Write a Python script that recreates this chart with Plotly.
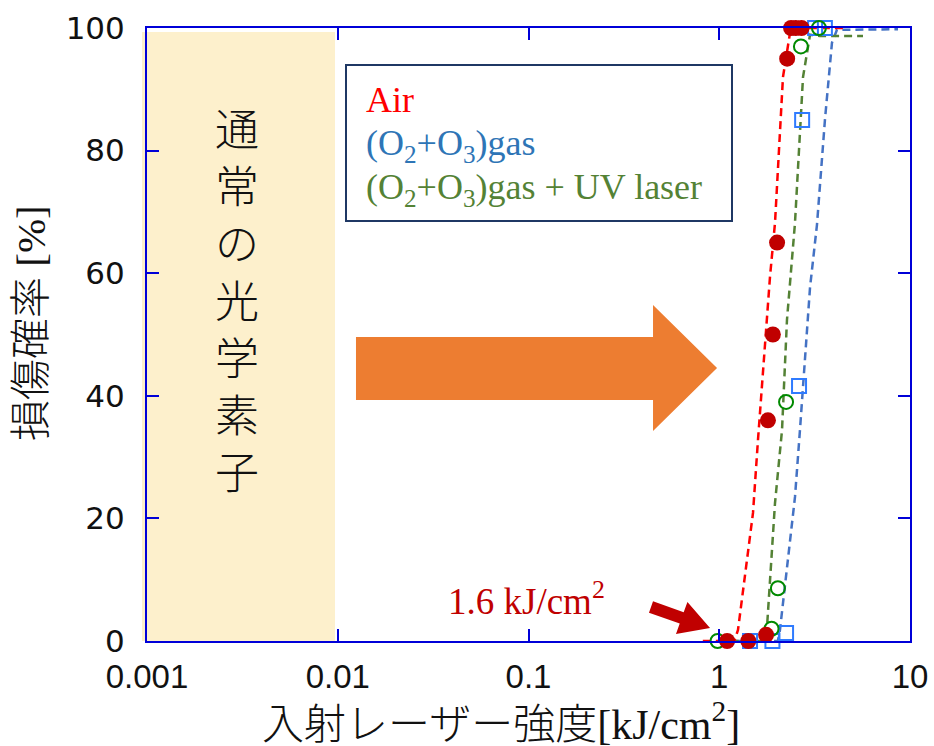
import plotly.graph_objects as go

# ---- measured damage probability [%] vs. incident laser fluence [kJ/cm2] ----
air_x = [1.10, 1.42, 1.76, 1.80, 1.91, 2.01, 2.27, 2.38, 2.52, 2.70]
air_y = [0, 0, 1, 36, 50, 65, 95, 100, 100, 100]

gas_x = [1.45, 1.90, 2.24, 2.62, 2.72, 3.18, 3.58]
gas_y = [0, 0, 1.3, 41.6, 85, 100, 100]

uv_x = [0.98, 1.88, 2.03, 2.24, 2.68, 3.33]
uv_y = [0, 2, 8.6, 39, 97, 100]

# ---- fitted curves (dashed) ----
air_fit_x = [0.82, 1.20, 1.254, 1.503, 1.596, 1.845, 1.96, 2.158, 2.35, 2.60, 4.70]
air_fit_y = [0, 0, 1.8, 20.9, 32.8, 59.4, 68.2, 92, 99.2, 100, 100]

gas_fit_x = [1.21, 2.03, 2.081, 2.495, 2.649, 2.815, 2.992, 3.253, 3.581, 3.899, 4.14, 8.65]
gas_fit_y = [0, 0, 1.8, 23.5, 34.4, 45.4, 57.7, 67.9, 85, 97.6, 99.7, 99.8]

uv_fit_x = [0.98, 1.717, 1.78, 1.96, 2.133, 2.265, 2.495, 2.749, 2.992, 3.375, 5.67]
uv_fit_y = [0, 0, 2.3, 22.5, 34.4, 52.4, 68.2, 92, 98.9, 98.7, 98.7]

x_ticks = [0.001, 0.01, 0.1, 1, 10]
x_tick_text = ["0.001", "0.01", "0.1", "1", "10"]
y_ticks = [0, 20, 40, 60, 80, 100]

# ---- plot-area geometry (pixels) for decorations in paper coordinates ----
W, H = 934, 746
L, R, T, B = 147, 24, 28, 105
PW, PH = W - L - R, H - T - B


def px(x):
    return (x - L) / PW


def py(y):
    return (H - B - y) / PH


AXIS_BLUE = "#0000d8"
DASH = "8px,5px"

fig = go.Figure()

# fitted curves
fig.add_trace(go.Scatter(x=gas_fit_x, y=gas_fit_y, mode="lines",
                         line=dict(color="#4472c4", width=2.5, dash=DASH),
                         cliponaxis=False, hoverinfo="skip"))
fig.add_trace(go.Scatter(x=uv_fit_x, y=uv_fit_y, mode="lines",
                         line=dict(color="#548235", width=2.5, dash=DASH),
                         cliponaxis=False, hoverinfo="skip"))
fig.add_trace(go.Scatter(x=air_fit_x, y=air_fit_y, mode="lines",
                         line=dict(color="#ff0000", width=2.5, dash=DASH),
                         cliponaxis=False, hoverinfo="skip"))

# measured points
fig.add_trace(go.Scatter(x=gas_x, y=gas_y, mode="markers", name="(O2+O3)gas",
                         marker=dict(symbol="square-open", size=14,
                                     color="#2f7bff", line=dict(width=2)),
                         cliponaxis=False))
fig.add_trace(go.Scatter(x=uv_x, y=uv_y, mode="markers", name="(O2+O3)gas + UV laser",
                         marker=dict(symbol="circle-open", size=14,
                                     color="#008a00", line=dict(width=2)),
                         cliponaxis=False))
fig.add_trace(go.Scatter(x=air_x, y=air_y, mode="markers", name="Air",
                         marker=dict(symbol="circle", size=16, color="#c00000"),
                         cliponaxis=False))

shapes = []
# shaded region for conventional optics
shapes.append(dict(type="rect", xref="paper", yref="paper",
                   x0=px(142), x1=px(335), y0=0, y1=py(32),
                   fillcolor="#fdf0cc", line=dict(width=0), layer="below"))
# legend box
shapes.append(dict(type="rect", xref="paper", yref="paper",
                   x0=px(346), x1=px(732), y0=py(221), y1=py(65),
                   fillcolor="white", line=dict(color="#1f3864", width=2)))


def poly(points):
    return "M" + " L".join(f"{px(a):.4f},{py(b):.4f}" for a, b in points) + " Z"


# large orange block arrow
orange = [(356, 337), (653, 337), (653, 305), (717, 368),
          (653, 431), (653, 400), (356, 400)]
shapes.append(dict(type="path", xref="paper", yref="paper", path=poly(orange),
                   fillcolor="#ed7d31", line=dict(width=0)))

# small red arrow pointing at the threshold
red_arrow = [(649.0, 612.7), (679.7, 623.6), (676.0, 633.9), (710, 628),
             (687.4, 601.9), (683.7, 612.2), (653.0, 601.3)]
shapes.append(dict(type="path", xref="paper", yref="paper", path=poly(red_arrow),
                   fillcolor="#c00000", line=dict(width=0)))

SERIF_CJK = "Liberation Serif, Noto Sans CJK JP"
annotations = []
legend_lines = [
    ("Air", "#ff0000", 100),
    ("(O<sub>2</sub>+O<sub>3</sub>)gas", "#2e75b6", 145),
    ("(O<sub>2</sub>+O<sub>3</sub>)gas + UV laser", "#548235", 189),
]
for txt, col, yy in legend_lines:
    annotations.append(dict(xref="paper", yref="paper", x=px(364), y=py(yy),
                            xanchor="left", yanchor="middle", showarrow=False,
                            text=txt, font=dict(family="Liberation Serif", size=36, color=col)))

annotations.append(dict(xref="paper", yref="paper", x=px(446), y=py(598),
                        xanchor="left", yanchor="middle", showarrow=False,
                        text="1.6 kJ/cm<sup>2</sup>",
                        font=dict(family="Liberation Serif", size=37, color="#c00000")))

annotations.append(dict(xref="paper", yref="paper", x=px(237), y=py(298),
                        xanchor="center", yanchor="middle", showarrow=False,
                        text="<br>".join("通常の光学素子"),
                        font=dict(family="Noto Sans CJK JP", size=44, color="#111111",
                                  weight=300)))

annotations.append(dict(xref="paper", yref="paper", x=px(501), y=py(721),
                        xanchor="center", yanchor="middle", showarrow=False,
                        text="入射レーザー強度[kJ/cm<sup>2</sup>]",
                        font=dict(family=SERIF_CJK, size=42, color="#111111", weight=300)))

annotations.append(dict(xref="paper", yref="paper", x=px(31), y=py(323),
                        xanchor="center", yanchor="middle", showarrow=False,
                        textangle=-90, text="損傷確率 [%]",
                        font=dict(family=SERIF_CJK, size=41, color="#111111", weight=300)))

fig.update_layout(
    width=W, height=H,
    margin=dict(l=L, r=R, t=T, b=B, pad=0, autoexpand=False),
    paper_bgcolor="white", plot_bgcolor="white",
    showlegend=False,
    shapes=shapes,
    annotations=annotations,
)

fig.update_xaxes(type="log", range=[-3, 1], tickvals=x_ticks, ticktext=x_tick_text,
                 ticks="inside", ticklen=12, tickwidth=2, tickcolor=AXIS_BLUE,
                 showline=True, linecolor=AXIS_BLUE, linewidth=2, mirror="ticks",
                 showgrid=False, zeroline=False, ticklabelstandoff=5, automargin=False,
                 tickfont=dict(family="Liberation Sans", size=33, color="#111111"))
fig.update_yaxes(range=[0, 100], tickvals=y_ticks,
                 ticks="inside", ticklen=12, tickwidth=2, tickcolor=AXIS_BLUE,
                 showline=True, linecolor=AXIS_BLUE, linewidth=2, mirror="ticks",
                 showgrid=False, zeroline=False, ticklabelstandoff=14, automargin=False,
                 tickfont=dict(family="DejaVu Sans", size=31, color="#111111"))

fig.write_html("out.html")
